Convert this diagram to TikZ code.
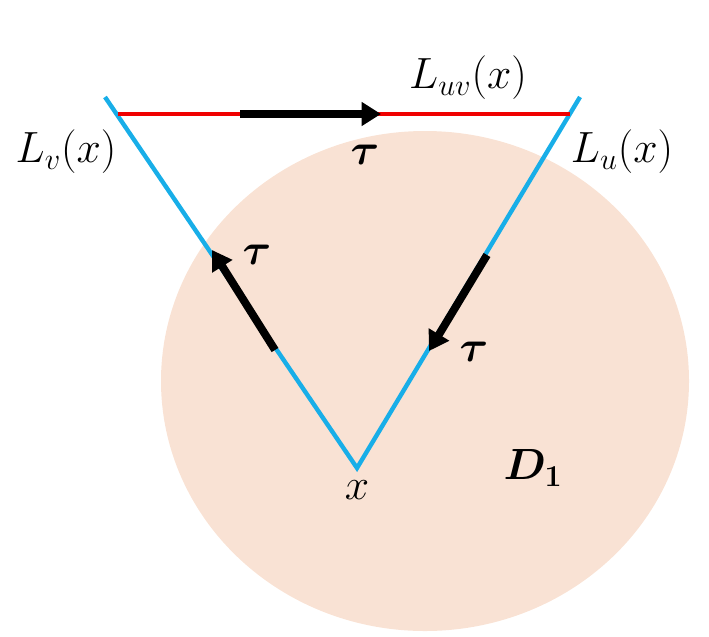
\documentclass[tikz,border=0pt]{standalone}
\usepackage{amsmath,amssymb,bm}
\usepackage{tikz}
\usetikzlibrary{arrows.meta,positioning,calc}
\definecolor{diskfill}{HTML}{F9E2D4}
\definecolor{sideblue}{HTML}{18AEE8}
\definecolor{topred}{HTML}{F00000}
\tikzstyle{side} = [sideblue, line width=2.5pt]
\tikzstyle{edge} = [topred, line width=2.5pt]
\tikzstyle{arrow} = [black, line width=4.5pt, -{Triangle[length=11pt,width=13pt]}]
\tikzstyle{lbl} = [font=\fontsize{23}{27}\selectfont, inner sep=0pt]
\tikzstyle{tau} = [font=\fontsize{30}{34}\selectfont, inner sep=0pt]

\begin{document}
\begin{tikzpicture}[x=0.02cm, y=-0.02cm]
\useasboundingbox (0,0) rectangle (709,636);

\fill[diskfill] (425,381) ellipse [x radius=264, y radius=250];

\coordinate (v) at (105,97);
\coordinate (u) at (580,97);
\coordinate (x) at (357,468);
\coordinate (a) at (118,114);
\coordinate (b) at (570,114);

\draw [side] (v) -- (x) -- (u);
\draw [edge] (a) -- (b);

\coordinate (t1) at (240,114);
\coordinate (t2) at (381,114);
\coordinate (l1) at (275,350);
\coordinate (l2) at (212,250);
\coordinate (r1) at (487,255);
\coordinate (r2) at (429,351);
\draw [arrow] (t1) -- (t2);
\draw [arrow] (l1) -- (l2);
\draw [arrow] (r1) -- (r2);

\node (Lv) [lbl] at (66,152) {$L_v(x)$};
\node (Luv) [lbl] at (468,78) {$L_{uv}(x)$};
\node (Lu) [lbl] at (622,152) {$L_u(x)$};
\node (tt) [tau] at (365,155) {$\boldsymbol{\tau}$};
\node (tl) [tau] at (257,255) {$\boldsymbol{\tau}$};
\node (tr) [tau] at (474,352) {$\boldsymbol{\tau}$};
\node (xl) [lbl] at (357,490) {$x$};
\node (D) [lbl] at (533,468) {$\boldsymbol{D_1}$};
\end{tikzpicture}
\end{document}
